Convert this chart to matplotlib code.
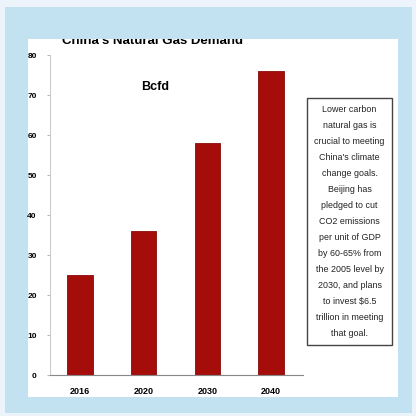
import matplotlib
matplotlib.use("Agg")
import matplotlib.pyplot as plt
from matplotlib.patches import Rectangle

years = ["2016", "2020", "2030", "2040"]
demand_bcfd = [25, 36, 58, 76]
yticks = [0, 10, 20, 30, 40, 50, 60, 70, 80]
note = ("Lower carbon\nnatural gas is\ncrucial to meeting\nChina's climate\n"
        "change goals.\nBeijing has\npledged to cut\nCO2 emissions\nper unit of GDP\n"
        "by 60-65% from\nthe 2005 level by\n2030, and plans\nto invest $6.5\n"
        "trillion in meeting\nthat goal.")

plt.rcParams["font.family"] = ["Liberation Sans", "DejaVu Sans"]

W = 416.0
fig = plt.figure(figsize=(4.16, 4.16), dpi=100)
fig.patch.set_facecolor("#edf3fa")


def box(x0, y0, x1, y1):
    # pixel box (top-left origin) -> figure fraction rect
    return (x0 / W, 1 - y1 / W, (x1 - x0) / W, (y1 - y0) / W)


bb = box(5, 7, 412, 413)
blue = Rectangle(bb[:2], *bb[2:], transform=fig.transFigure,
                 facecolor="#c2e1f1", edgecolor="none", zorder=0)
wb = box(28, 39, 398, 397)
white = Rectangle(wb[:2], *wb[2:], transform=fig.transFigure,
                  facecolor="white", edgecolor="none", zorder=0.5)
fig.patches.extend([blue, white])

ax = fig.add_axes(box(50, 55, 303, 375))
ax.set_zorder(1)
ax.set_facecolor("none")
xs = range(len(years))
ax.bar(xs, demand_bcfd, width=0.4, color="#a50d0b", edgecolor="#8a0a08", lw=0.6, zorder=2)
ax.set_xlim(-0.47, 3.5)
ax.set_ylim(0, 80)
ax.set_yticks(yticks)
ax.set_yticklabels([str(t) for t in yticks], fontsize=6, fontweight="bold")
ax.set_xticks(list(xs))
ax.set_xticklabels(years, fontsize=6.5, fontweight="bold")
ax.tick_params(axis="y", length=2.5, width=0.5, color="#999999", pad=7)
ax.tick_params(axis="x", length=0, pad=9)
for s in ("top", "right"):
    ax.spines[s].set_visible(False)
ax.spines["left"].set_color("#cccccc")
ax.spines["left"].set_linewidth(0.8)
ax.spines["bottom"].set_color("#888888")
ax.spines["bottom"].set_linewidth(0.8)

title = fig.text(62 / W, 1 - 41 / W, "China's Natural Gas Demand", fontsize=9.5,
                 fontweight="bold", ha="left", va="center", zorder=3)
title.set_clip_path(white)
fig.text(155 / W, 1 - 87 / W, "Bcfd", fontsize=9, fontweight="bold",
         ha="center", va="center", zorder=3)

nb = box(307, 98, 392, 345)
fig.patches.append(Rectangle(nb[:2], *nb[2:], transform=fig.transFigure,
                             facecolor="white", edgecolor="#444444", lw=1.0, zorder=2))
fig.text(349.5 / W, 1 - 221.5 / W, note, fontsize=6.4, ha="center", va="center",
         linespacing=2.0, color="#222222", zorder=3)

fig.savefig("out.png", dpi=100)
